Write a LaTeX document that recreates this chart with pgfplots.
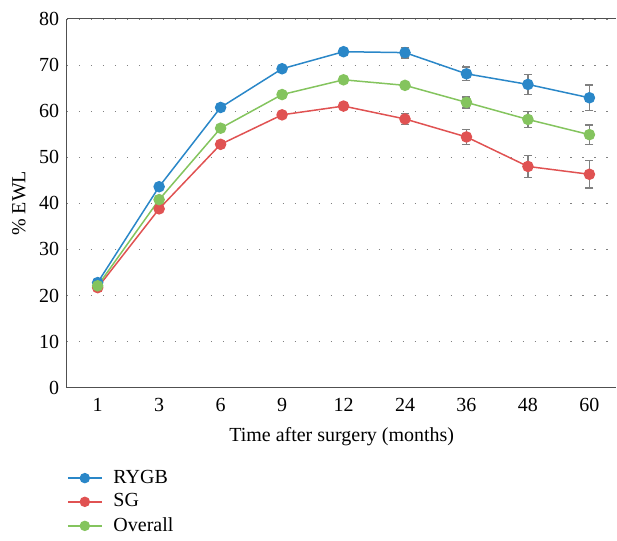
\documentclass[border=0pt]{standalone}
\usepackage{pgfplots}
\pgfplotsset{compat=1.18}
\usepackage{fontspec}
\setmainfont{Liberation Serif}
\definecolor{cblue}{RGB}{42,135,200}
\definecolor{cred}{RGB}{224,82,82}
\definecolor{cgreen}{RGB}{132,196,94}
\definecolor{axgray}{RGB}{80,80,80}
\begin{document}
\fontsize{20}{24}\selectfont
\begin{tikzpicture}
\begin{axis}[
  scale only axis,
  width=550pt, height=369pt,
  xmin=-0.5, xmax=8.44,
  ymin=0, ymax=80,
  ytick={0,10,...,80},
  xtick={0,...,8},
  xticklabels={1,3,6,9,12,24,36,48,60},
  axis lines*=left,
  axis line style={axgray, line width=1pt},
  major tick length=0pt,
  ymajorgrids,
  grid style={gray, line width=1.1pt, dash pattern=on 1.1pt off 10.9pt},
  tick label style={font=\fontsize{20}{24}\selectfont, /pgf/number format/assume math mode=true},
  xticklabel style={yshift=-4pt},
  yticklabel style={xshift=-1pt},
  label style={font=\fontsize{20}{24}\selectfont},
  xlabel={Time after surgery (months)},
  ylabel={\% EWL},
  xlabel style={yshift=-2pt},
  ylabel style={yshift=0pt},
  legend style={at={(0,-0.212)}, anchor=north west, draw=none, fill=none,
    font=\fontsize{20}{24}\selectfont, row sep=3.5pt, inner xsep=0pt,
    /tikz/every odd column/.append style={column sep=9pt}},
  legend cell align=left,
  legend image code/.code={
    \draw[#1, line width=1.4pt, mark size=4.5pt, mark repeat=2, mark phase=2] plot coordinates {(0pt,0pt) (17pt,0pt) (34pt,0pt)};
  },
  every axis plot/.append style={line width=1.5pt, mark=*, mark size=5pt,
    error bars/y dir=both, error bars/y explicit,
    error bars/error bar style={gray, line width=1.3pt},
    error bars/error mark options={gray, rotate=90, mark size=4pt, line width=1.3pt}},
  clip=false,
]
\addplot[cblue, mark options={fill=cblue, draw=cblue}] table[x=x, y=y, y error=e] {
x y e
0 22.8 0.3
1 43.6 0.4
2 60.8 0.5
3 69.2 0.5
4 72.9 0.6
5 72.7 1.15
6 68.1 1.5
7 65.8 2.2
8 62.9 2.75
};
\addplot[cred, mark options={fill=cred, draw=cred}] table[x=x, y=y, y error=e] {
x y e
0 21.7 0.3
1 38.8 0.4
2 52.8 0.5
3 59.2 0.5
4 61.1 0.6
5 58.3 1.2
6 54.4 1.6
7 48.0 2.35
8 46.3 3.0
};
\addplot[cgreen, mark options={fill=cgreen, draw=cgreen}] table[x=x, y=y, y error=e] {
x y e
0 22.1 0.3
1 40.8 0.4
2 56.3 0.5
3 63.6 0.5
4 66.8 0.5
5 65.6 0.7
6 61.9 1.2
7 58.2 1.7
8 54.9 2.1
};
\legend{RYGB, SG, Overall}
\draw[axgray, line width=1pt] (rel axis cs:0,1) -- (rel axis cs:1,1);
\end{axis}
\path[use as bounding box] ([xshift=-67pt, yshift=-153pt]current axis.south west) rectangle ([yshift=19pt]current axis.north east);
\end{tikzpicture}
\end{document}
